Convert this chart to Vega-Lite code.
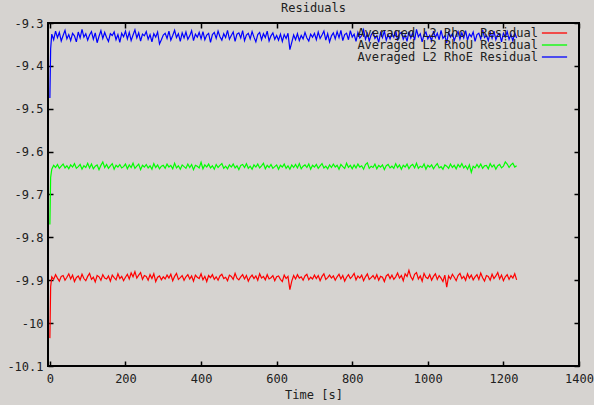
{
"$schema": "https://vega.github.io/schema/vega-lite/v6.json",
"width": 531, "height": 343,
"autosize": {"type": "none"},
"padding": {"left": 48, "top": 23, "right": 15, "bottom": 39},
"background": "#d6d3d0",
"title": {"text": "Residuals", "font": "DejaVu Sans Mono", "fontSize": 12, "fontWeight": "normal", "color": "#202020", "offset": 2},
"config": {"view": {"stroke": "#000000", "strokeWidth": 2}, "font": "DejaVu Sans Mono"},
"data": {"values": [
{"t":0,"a":-10.035,"b":-9.770,"c":-9.475},
{"t":2,"a":-9.915,"b":-9.660,"c":-9.360},
{"t":5,"a":-9.892,"b":-9.641,"c":-9.326},
{"t":10,"a":-9.898,"b":-9.632,"c":-9.339},
{"t":15,"a":-9.887,"b":-9.637,"c":-9.319},
{"t":20,"a":-9.895,"b":-9.630,"c":-9.334},
{"t":25,"a":-9.902,"b":-9.639,"c":-9.322},
{"t":30,"a":-9.891,"b":-9.634,"c":-9.342},
{"t":35,"a":-9.889,"b":-9.629,"c":-9.329},
{"t":40,"a":-9.900,"b":-9.638,"c":-9.317},
{"t":45,"a":-9.893,"b":-9.633,"c":-9.337},
{"t":50,"a":-9.885,"b":-9.640,"c":-9.327},
{"t":55,"a":-9.897,"b":-9.631,"c":-9.341},
{"t":60,"a":-9.888,"b":-9.636,"c":-9.324},
{"t":65,"a":-9.903,"b":-9.628,"c":-9.330},
{"t":70,"a":-9.894,"b":-9.639,"c":-9.344},
{"t":75,"a":-9.890,"b":-9.635,"c":-9.321},
{"t":80,"a":-9.899,"b":-9.630,"c":-9.335},
{"t":85,"a":-9.886,"b":-9.641,"c":-9.315},
{"t":90,"a":-9.896,"b":-9.633,"c":-9.333},
{"t":95,"a":-9.901,"b":-9.637,"c":-9.325},
{"t":100,"a":-9.891,"b":-9.627,"c":-9.340},
{"t":105,"a":-9.884,"b":-9.638,"c":-9.328},
{"t":110,"a":-9.898,"b":-9.629,"c":-9.320},
{"t":115,"a":-9.893,"b":-9.640,"c":-9.338},
{"t":120,"a":-9.904,"b":-9.634,"c":-9.323},
{"t":125,"a":-9.889,"b":-9.631,"c":-9.346},
{"t":130,"a":-9.892,"b":-9.642,"c":-9.331},
{"t":135,"a":-9.900,"b":-9.632,"c":-9.318},
{"t":140,"a":-9.887,"b":-9.624,"c":-9.336},
{"t":145,"a":-9.895,"b":-9.637,"c":-9.322},
{"t":150,"a":-9.897,"b":-9.630,"c":-9.334},
{"t":155,"a":-9.890,"b":-9.639,"c":-9.343},
{"t":160,"a":-9.902,"b":-9.633,"c":-9.325},
{"t":165,"a":-9.888,"b":-9.628,"c":-9.329},
{"t":170,"a":-9.894,"b":-9.641,"c":-9.321},
{"t":175,"a":-9.899,"b":-9.632,"c":-9.339},
{"t":180,"a":-9.885,"b":-9.636,"c":-9.327},
{"t":185,"a":-9.896,"b":-9.630,"c":-9.345},
{"t":190,"a":-9.891,"b":-9.638,"c":-9.324},
{"t":195,"a":-9.901,"b":-9.635,"c":-9.332},
{"t":200,"a":-9.893,"b":-9.629,"c":-9.319},
{"t":205,"a":-9.886,"b":-9.640,"c":-9.337},
{"t":210,"a":-9.897,"b":-9.631,"c":-9.322},
{"t":215,"a":-9.883,"b":-9.637,"c":-9.341},
{"t":220,"a":-9.892,"b":-9.627,"c":-9.328},
{"t":225,"a":-9.880,"b":-9.639,"c":-9.316},
{"t":230,"a":-9.895,"b":-9.634,"c":-9.335},
{"t":235,"a":-9.888,"b":-9.629,"c":-9.323},
{"t":240,"a":-9.882,"b":-9.642,"c":-9.342},
{"t":245,"a":-9.898,"b":-9.632,"c":-9.326},
{"t":250,"a":-9.889,"b":-9.636,"c":-9.330},
{"t":255,"a":-9.891,"b":-9.630,"c":-9.320},
{"t":260,"a":-9.900,"b":-9.638,"c":-9.338},
{"t":265,"a":-9.887,"b":-9.633,"c":-9.327},
{"t":270,"a":-9.896,"b":-9.641,"c":-9.344},
{"t":275,"a":-9.885,"b":-9.628,"c":-9.325},
{"t":280,"a":-9.903,"b":-9.637,"c":-9.333},
{"t":285,"a":-9.893,"b":-9.631,"c":-9.321},
{"t":290,"a":-9.890,"b":-9.640,"c":-9.349},
{"t":295,"a":-9.899,"b":-9.634,"c":-9.339},
{"t":300,"a":-9.892,"b":-9.632,"c":-9.328},
{"t":305,"a":-9.897,"b":-9.639,"c":-9.324},
{"t":310,"a":-9.888,"b":-9.629,"c":-9.336},
{"t":315,"a":-9.895,"b":-9.636,"c":-9.319},
{"t":320,"a":-9.886,"b":-9.632,"c":-9.340},
{"t":325,"a":-9.901,"b":-9.640,"c":-9.329},
{"t":330,"a":-9.891,"b":-9.627,"c":-9.317},
{"t":335,"a":-9.884,"b":-9.638,"c":-9.334},
{"t":340,"a":-9.898,"b":-9.633,"c":-9.325},
{"t":345,"a":-9.894,"b":-9.641,"c":-9.343},
{"t":350,"a":-9.889,"b":-9.631,"c":-9.323},
{"t":355,"a":-9.900,"b":-9.635,"c":-9.335},
{"t":360,"a":-9.892,"b":-9.639,"c":-9.321},
{"t":365,"a":-9.887,"b":-9.629,"c":-9.338},
{"t":370,"a":-9.897,"b":-9.637,"c":-9.330},
{"t":375,"a":-9.890,"b":-9.630,"c":-9.318},
{"t":380,"a":-9.902,"b":-9.642,"c":-9.341},
{"t":385,"a":-9.888,"b":-9.632,"c":-9.326},
{"t":390,"a":-9.893,"b":-9.634,"c":-9.333},
{"t":395,"a":-9.896,"b":-9.638,"c":-9.322},
{"t":400,"a":-9.885,"b":-9.625,"c":-9.337},
{"t":405,"a":-9.899,"b":-9.640,"c":-9.320},
{"t":410,"a":-9.891,"b":-9.631,"c":-9.339},
{"t":415,"a":-9.903,"b":-9.636,"c":-9.328},
{"t":420,"a":-9.889,"b":-9.629,"c":-9.324},
{"t":425,"a":-9.894,"b":-9.638,"c":-9.345},
{"t":430,"a":-9.887,"b":-9.633,"c":-9.327},
{"t":435,"a":-9.898,"b":-9.641,"c":-9.322},
{"t":440,"a":-9.892,"b":-9.630,"c":-9.336},
{"t":445,"a":-9.900,"b":-9.637,"c":-9.319},
{"t":450,"a":-9.890,"b":-9.632,"c":-9.332},
{"t":455,"a":-9.886,"b":-9.628,"c":-9.340},
{"t":460,"a":-9.896,"b":-9.639,"c":-9.325},
{"t":465,"a":-9.893,"b":-9.634,"c":-9.334},
{"t":470,"a":-9.901,"b":-9.640,"c":-9.317},
{"t":475,"a":-9.888,"b":-9.631,"c":-9.338},
{"t":480,"a":-9.891,"b":-9.636,"c":-9.329},
{"t":485,"a":-9.898,"b":-9.629,"c":-9.321},
{"t":490,"a":-9.884,"b":-9.638,"c":-9.343},
{"t":495,"a":-9.895,"b":-9.633,"c":-9.326},
{"t":500,"a":-9.899,"b":-9.642,"c":-9.323},
{"t":505,"a":-9.892,"b":-9.632,"c":-9.335},
{"t":510,"a":-9.887,"b":-9.630,"c":-9.318},
{"t":515,"a":-9.897,"b":-9.637,"c":-9.341},
{"t":520,"a":-9.889,"b":-9.628,"c":-9.328},
{"t":525,"a":-9.902,"b":-9.639,"c":-9.324},
{"t":530,"a":-9.893,"b":-9.634,"c":-9.337},
{"t":535,"a":-9.888,"b":-9.641,"c":-9.320},
{"t":540,"a":-9.896,"b":-9.631,"c":-9.333},
{"t":545,"a":-9.890,"b":-9.636,"c":-9.344},
{"t":550,"a":-9.900,"b":-9.629,"c":-9.327},
{"t":555,"a":-9.885,"b":-9.638,"c":-9.322},
{"t":560,"a":-9.895,"b":-9.633,"c":-9.339},
{"t":565,"a":-9.891,"b":-9.627,"c":-9.325},
{"t":570,"a":-9.899,"b":-9.640,"c":-9.334},
{"t":575,"a":-9.887,"b":-9.632,"c":-9.319},
{"t":580,"a":-9.897,"b":-9.637,"c":-9.342},
{"t":585,"a":-9.894,"b":-9.630,"c":-9.330},
{"t":590,"a":-9.889,"b":-9.639,"c":-9.323},
{"t":595,"a":-9.901,"b":-9.635,"c":-9.338},
{"t":600,"a":-9.892,"b":-9.631,"c":-9.329},
{"t":605,"a":-9.890,"b":-9.641,"c":-9.340},
{"t":610,"a":-9.898,"b":-9.632,"c":-9.326},
{"t":615,"a":-9.903,"b":-9.636,"c":-9.343},
{"t":620,"a":-9.888,"b":-9.629,"c":-9.327},
{"t":625,"a":-9.896,"b":-9.639,"c":-9.336},
{"t":630,"a":-9.891,"b":-9.633,"c":-9.324},
{"t":635,"a":-9.922,"b":-9.641,"c":-9.362},
{"t":640,"a":-9.902,"b":-9.631,"c":-9.345},
{"t":645,"a":-9.889,"b":-9.637,"c":-9.328},
{"t":650,"a":-9.897,"b":-9.630,"c":-9.339},
{"t":655,"a":-9.887,"b":-9.638,"c":-9.325},
{"t":660,"a":-9.895,"b":-9.628,"c":-9.341},
{"t":665,"a":-9.892,"b":-9.640,"c":-9.329},
{"t":670,"a":-9.900,"b":-9.634,"c":-9.337},
{"t":675,"a":-9.890,"b":-9.631,"c":-9.322},
{"t":680,"a":-9.886,"b":-9.637,"c":-9.335},
{"t":685,"a":-9.899,"b":-9.629,"c":-9.342},
{"t":690,"a":-9.893,"b":-9.641,"c":-9.326},
{"t":695,"a":-9.897,"b":-9.632,"c":-9.333},
{"t":700,"a":-9.888,"b":-9.636,"c":-9.324},
{"t":705,"a":-9.896,"b":-9.630,"c":-9.339},
{"t":710,"a":-9.889,"b":-9.639,"c":-9.321},
{"t":715,"a":-9.901,"b":-9.633,"c":-9.336},
{"t":720,"a":-9.891,"b":-9.628,"c":-9.328},
{"t":725,"a":-9.885,"b":-9.638,"c":-9.319},
{"t":730,"a":-9.898,"b":-9.634,"c":-9.340},
{"t":735,"a":-9.894,"b":-9.640,"c":-9.325},
{"t":740,"a":-9.888,"b":-9.631,"c":-9.344},
{"t":745,"a":-9.895,"b":-9.637,"c":-9.330},
{"t":750,"a":-9.890,"b":-9.629,"c":-9.323},
{"t":755,"a":-9.900,"b":-9.636,"c":-9.337},
{"t":760,"a":-9.892,"b":-9.632,"c":-9.320},
{"t":765,"a":-9.886,"b":-9.641,"c":-9.334},
{"t":770,"a":-9.897,"b":-9.630,"c":-9.317},
{"t":775,"a":-9.889,"b":-9.635,"c":-9.341},
{"t":780,"a":-9.902,"b":-9.639,"c":-9.327},
{"t":785,"a":-9.893,"b":-9.627,"c":-9.324},
{"t":790,"a":-9.887,"b":-9.637,"c":-9.339},
{"t":795,"a":-9.896,"b":-9.632,"c":-9.318},
{"t":800,"a":-9.891,"b":-9.640,"c":-9.333},
{"t":805,"a":-9.884,"b":-9.631,"c":-9.326},
{"t":810,"a":-9.899,"b":-9.638,"c":-9.343},
{"t":815,"a":-9.890,"b":-9.629,"c":-9.322},
{"t":820,"a":-9.895,"b":-9.636,"c":-9.335},
{"t":825,"a":-9.888,"b":-9.633,"c":-9.329},
{"t":830,"a":-9.901,"b":-9.641,"c":-9.316},
{"t":835,"a":-9.892,"b":-9.630,"c":-9.338},
{"t":840,"a":-9.885,"b":-9.626,"c":-9.325},
{"t":845,"a":-9.898,"b":-9.639,"c":-9.342},
{"t":850,"a":-9.894,"b":-9.634,"c":-9.328},
{"t":855,"a":-9.889,"b":-9.637,"c":-9.321},
{"t":860,"a":-9.897,"b":-9.629,"c":-9.336},
{"t":865,"a":-9.887,"b":-9.640,"c":-9.330},
{"t":870,"a":-9.900,"b":-9.632,"c":-9.345},
{"t":875,"a":-9.891,"b":-9.636,"c":-9.323},
{"t":880,"a":-9.893,"b":-9.631,"c":-9.334},
{"t":885,"a":-9.903,"b":-9.642,"c":-9.319},
{"t":890,"a":-9.890,"b":-9.633,"c":-9.340},
{"t":895,"a":-9.886,"b":-9.630,"c":-9.327},
{"t":900,"a":-9.896,"b":-9.638,"c":-9.337},
{"t":905,"a":-9.888,"b":-9.634,"c":-9.324},
{"t":910,"a":-9.898,"b":-9.639,"c":-9.333},
{"t":915,"a":-9.892,"b":-9.628,"c":-9.318},
{"t":920,"a":-9.883,"b":-9.637,"c":-9.341},
{"t":925,"a":-9.895,"b":-9.631,"c":-9.326},
{"t":930,"a":-9.889,"b":-9.641,"c":-9.322},
{"t":935,"a":-9.901,"b":-9.632,"c":-9.338},
{"t":940,"a":-9.885,"b":-9.636,"c":-9.328},
{"t":945,"a":-9.891,"b":-9.629,"c":-9.343},
{"t":950,"a":-9.877,"b":-9.640,"c":-9.320},
{"t":955,"a":-9.892,"b":-9.633,"c":-9.335},
{"t":960,"a":-9.899,"b":-9.630,"c":-9.323},
{"t":965,"a":-9.886,"b":-9.638,"c":-9.340},
{"t":970,"a":-9.882,"b":-9.627,"c":-9.315},
{"t":975,"a":-9.897,"b":-9.639,"c":-9.332},
{"t":980,"a":-9.890,"b":-9.634,"c":-9.325},
{"t":985,"a":-9.902,"b":-9.637,"c":-9.344},
{"t":990,"a":-9.884,"b":-9.629,"c":-9.327},
{"t":995,"a":-9.893,"b":-9.641,"c":-9.321},
{"t":1000,"a":-9.896,"b":-9.632,"c":-9.337},
{"t":1005,"a":-9.887,"b":-9.636,"c":-9.329},
{"t":1010,"a":-9.900,"b":-9.631,"c":-9.342},
{"t":1015,"a":-9.891,"b":-9.640,"c":-9.319},
{"t":1020,"a":-9.885,"b":-9.633,"c":-9.334},
{"t":1025,"a":-9.898,"b":-9.628,"c":-9.324},
{"t":1030,"a":-9.889,"b":-9.638,"c":-9.339},
{"t":1035,"a":-9.895,"b":-9.635,"c":-9.317},
{"t":1040,"a":-9.903,"b":-9.641,"c":-9.336},
{"t":1045,"a":-9.888,"b":-9.631,"c":-9.330},
{"t":1050,"a":-9.916,"b":-9.634,"c":-9.346},
{"t":1055,"a":-9.890,"b":-9.639,"c":-9.322},
{"t":1060,"a":-9.897,"b":-9.629,"c":-9.333},
{"t":1065,"a":-9.886,"b":-9.637,"c":-9.325},
{"t":1070,"a":-9.893,"b":-9.632,"c":-9.341},
{"t":1075,"a":-9.901,"b":-9.640,"c":-9.328},
{"t":1080,"a":-9.889,"b":-9.630,"c":-9.320},
{"t":1085,"a":-9.884,"b":-9.636,"c":-9.338},
{"t":1090,"a":-9.896,"b":-9.628,"c":-9.323},
{"t":1095,"a":-9.891,"b":-9.638,"c":-9.335},
{"t":1100,"a":-9.900,"b":-9.633,"c":-9.318},
{"t":1105,"a":-9.885,"b":-9.641,"c":-9.340},
{"t":1110,"a":-9.895,"b":-9.631,"c":-9.326},
{"t":1115,"a":-9.888,"b":-9.648,"c":-9.332},
{"t":1120,"a":-9.899,"b":-9.634,"c":-9.321},
{"t":1125,"a":-9.892,"b":-9.638,"c":-9.343},
{"t":1130,"a":-9.887,"b":-9.630,"c":-9.327},
{"t":1135,"a":-9.898,"b":-9.637,"c":-9.324},
{"t":1140,"a":-9.883,"b":-9.629,"c":-9.337},
{"t":1145,"a":-9.894,"b":-9.639,"c":-9.316},
{"t":1150,"a":-9.902,"b":-9.633,"c":-9.334},
{"t":1155,"a":-9.889,"b":-9.632,"c":-9.329},
{"t":1160,"a":-9.891,"b":-9.640,"c":-9.341},
{"t":1165,"a":-9.900,"b":-9.628,"c":-9.322},
{"t":1170,"a":-9.886,"b":-9.636,"c":-9.336},
{"t":1175,"a":-9.896,"b":-9.631,"c":-9.319},
{"t":1180,"a":-9.890,"b":-9.641,"c":-9.339},
{"t":1185,"a":-9.882,"b":-9.633,"c":-9.328},
{"t":1190,"a":-9.897,"b":-9.630,"c":-9.325},
{"t":1195,"a":-9.888,"b":-9.638,"c":-9.344},
{"t":1200,"a":-9.901,"b":-9.634,"c":-9.324},
{"t":1205,"a":-9.892,"b":-9.624,"c":-9.333},
{"t":1210,"a":-9.887,"b":-9.629,"c":-9.320},
{"t":1215,"a":-9.898,"b":-9.637,"c":-9.338},
{"t":1220,"a":-9.889,"b":-9.631,"c":-9.327},
{"t":1225,"a":-9.895,"b":-9.627,"c":-9.342},
{"t":1230,"a":-9.885,"b":-9.636,"c":-9.323},
{"t":1235,"a":-9.899,"b":-9.633,"c":-9.335}
]},
"transform": [{"fold": ["a", "b", "c"], "as": ["k", "v"]}],
"layer": [
{
"mark": {"type": "line", "strokeWidth": 1.2, "clip": true},
"encoding": {
"x": {"field": "t", "type": "quantitative",
"scale": {"domain": [-5, 1400], "nice": false, "zero": false},
"axis": {"orient": "bottom", "values": [0, 200, 400, 600, 800, 1000, 1200, 1400], "labelExpr": "toString(datum.value)", "title": "Time [s]", "domain": false, "grid": false, "tickColor": "#000000", "tickSize": -5, "tickWidth": 1.5, "labelPadding": 12, "labelFontSize": 12, "labelColor": "#202020", "labelFont": "DejaVu Sans Mono", "labelFlush": false, "labelOverlap": false, "labelDx": 2, "titleFontSize": 12, "titleFontWeight": "normal", "titleColor": "#202020", "titleFont": "DejaVu Sans Mono", "titlePadding": 5}},
"y": {"field": "v", "type": "quantitative",
"scale": {"domain": [-10.1, -9.3], "nice": false, "zero": false},
"axis": {"orient": "left", "values": [-10.1, -10, -9.9, -9.8, -9.7, -9.6, -9.5, -9.4, -9.3], "title": null, "domain": false, "grid": false, "tickColor": "#000000", "tickSize": -5, "tickWidth": 1.5, "labelPadding": 10, "labelFontSize": 12, "labelColor": "#202020", "labelFont": "DejaVu Sans Mono", "labelFlush": false, "labelOverlap": false, "labelExpr": "toString(round(datum.value*10)/10)"}},
"color": {"field": "k", "type": "nominal",
"scale": {"domain": ["a", "b", "c"], "range": ["#ff0000", "#00ff00", "#0000ff"]},
"legend": {"orient": "none", "legendX": 500.5, "legendY": 4, "title": null, "symbolType": "M-3.15,0H3.15", "symbolSize": 64, "symbolStrokeWidth": 1.3, "labelAlign": "right", "labelOffset": -22.5, "labelLimit": 400, "labelFontSize": 12, "labelFont": "DejaVu Sans Mono", "labelColor": "#202020", "rowPadding": 0, "padding": 0,
"labelExpr": "datum.label == 'a' ? 'Averaged L2 Rho\u00a0 Residual' : (datum.label == 'b' ? 'Averaged L2 RhoU Residual' : 'Averaged L2 RhoE Residual')"}}
}
},
{
"mark": {"type": "point", "opacity": 0},
"encoding": {
"x": {"field": "t", "type": "quantitative",
"scale": {"domain": [-5, 1400], "nice": false, "zero": false},
"axis": {"orient": "top", "values": [0, 200, 400, 600, 800, 1000, 1200, 1400], "title": null, "labels": false, "domain": false, "grid": false, "tickColor": "#000000", "tickSize": -5, "tickWidth": 1.5}},
"y": {"field": "v", "type": "quantitative",
"scale": {"domain": [-10.1, -9.3], "nice": false, "zero": false},
"axis": {"orient": "right", "values": [-10.1, -10, -9.9, -9.8, -9.7, -9.6, -9.5, -9.4, -9.3], "title": null, "labels": false, "domain": false, "grid": false, "tickColor": "#000000", "tickSize": -5, "tickWidth": 1.5}}
}
}
],
"resolve": {"axis": {"x": "independent", "y": "independent"}}
}
